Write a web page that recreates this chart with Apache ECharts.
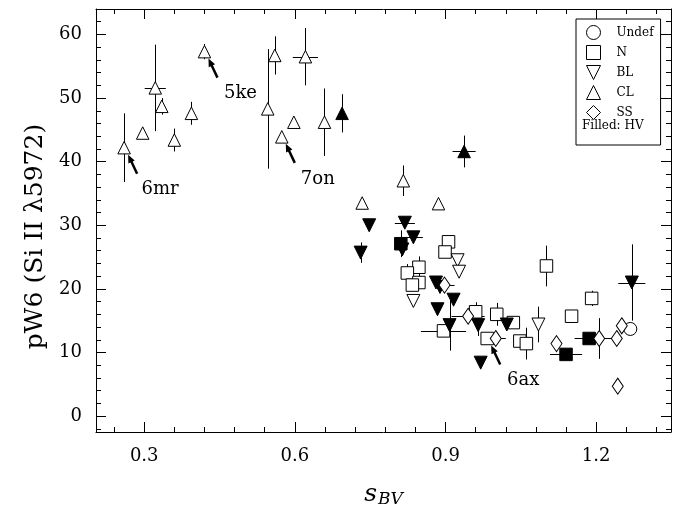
<!DOCTYPE html>
<html>
<head>
<meta charset="utf-8">
<script src="https://cdn.jsdelivr.net/npm/echarts@6/dist/echarts.min.js"></script>
<style>
  html, body { margin: 0; padding: 0; background: #fff; }
  #chart { width: 683px; height: 513px; }
</style>
</head>
<body>
<div id="chart"></div>
<script>
// Each point: [sBV, pW6, pW6 error, sBV error]
const undefOpen = [
  [1.268, 13.7, 0, 0]
];
const normalOpen = [
  [0.906, 27.4, 0, 0], [0.899, 25.8, 0, 0], [0.847, 23.4, 1.7, 0], [0.824, 22.5, 1.4, 0],
  [0.847, 21.0, 0, 0], [0.834, 20.6, 0, 0], [0.896, 13.4, 0, 0.045], [0.960, 16.4, 1.5, 0],
  [1.002, 16.0, 1.8, 0], [1.035, 14.7, 0, 0], [0.983, 12.2, 0, 0], [1.048, 11.8, 0, 0],
  [1.061, 11.4, 2.5, 0], [1.101, 23.6, 3.2, 0], [1.151, 15.7, 0, 0], [1.191, 18.5, 1.2, 0]
];
const normalHV = [
  [0.811, 27.1, 2.1, 0], [1.140, 9.7, 0, 0.032], [1.186, 12.2, 0, 0.029]
];
const brokenLineOpen = [
  [0.924, 24.5, 0, 0], [0.927, 22.7, 0, 0], [0.836, 18.1, 0, 0], [1.085, 14.4, 2.8, 0]
];
const brokenLineHV = [
  [0.748, 30.0, 0, 0], [0.731, 25.7, 1.6, 0], [0.819, 30.4, 0, 0.02], [0.836, 28.1, 0, 0.019],
  [0.814, 26.2, 0, 0], [0.881, 21.0, 0, 0], [0.889, 20.3, 0, 0], [0.916, 18.3, 0, 0],
  [0.884, 16.8, 0, 0], [0.908, 14.3, 4.0, 0], [0.965, 14.3, 1.7, 0], [0.970, 8.4, 0, 0],
  [1.022, 14.4, 0, 0], [1.271, 21.0, 6.0, 0.027]
];
const coolOpen = [
  [0.260, 42.2, 5.4, 0], [0.297, 44.5, 0, 0], [0.322, 51.6, 6.8, 0.021], [0.335, 48.7, 1.3, 0],
  [0.360, 43.4, 1.8, 0], [0.394, 47.6, 1.8, 0], [0.420, 57.3, 1.2, 0], [0.546, 48.3, 9.4, 0],
  [0.560, 56.7, 3.0, 0], [0.574, 43.9, 0, 0], [0.598, 46.2, 0, 0], [0.621, 56.5, 4.5, 0.025],
  [0.659, 46.2, 5.3, 0], [0.734, 33.5, 0, 0], [0.816, 37.0, 2.4, 0], [0.886, 33.4, 0, 0]
];
const coolHV = [
  [0.694, 47.6, 3.0, 0], [0.937, 41.6, 2.5, 0.023]
];
const shallowOpen = [
  [0.898, 20.6, 0, 0.02], [0.945, 15.7, 0, 0.033], [1.000, 12.2, 0, 0.02], [1.121, 11.4, 0, 0],
  [1.206, 12.2, 3.2, 0.025], [1.241, 12.2, 0, 0], [1.251, 14.2, 0, 0], [1.243, 4.7, 0, 0]
];

// Named objects: [label, sBV, pW6]
const namedObjects = [
  ['6mr', 0.260, 42.2], ['5ke', 0.420, 57.3], ['7on', 0.574, 43.9], ['6ax', 0.983, 12.2]
];

const xMajor = [0.3, 0.6, 0.9, 1.2];
const xMinor = [0.24, 0.36, 0.42, 0.48, 0.54, 0.66, 0.72, 0.78, 0.84, 0.96, 1.02, 1.08, 1.14, 1.26, 1.32];
const yMajor = [0, 10, 20, 30, 40, 50, 60];
const yMinor = [-2, 2, 4, 6, 8, 12, 14, 16, 18, 22, 24, 26, 28, 32, 34, 36, 38, 42, 44, 46, 48, 52, 54, 56, 58, 62, 64];
const legendNames = ['Undef', 'N', 'BL', 'CL', 'SS'];

const SERIF = '"DejaVu Serif", serif';
const X_RANGE = [0.204, 1.349];
const Y_RANGE = [-2.5, 64];

const DOWN_TRI = 'path://M0,0 L20,0 L10,20 Z';
const UP_TRI = 'path://M10,0 L20,20 L0,20 Z';
const DIAMOND = 'path://M10,0 L20,10 L10,20 L0,10 Z';

function xAxisDef(position, ticks, len, labels, lineShow) {
  return {
    type: 'value', min: X_RANGE[0], max: X_RANGE[1], position: position,
    axisLine: { show: lineShow, onZero: false, lineStyle: { color: '#000', width: 1 } },
    axisTick: { show: true, inside: true, length: len, customValues: ticks, lineStyle: { color: '#000', width: 1 } },
    axisLabel: labels ? { show: true, customValues: ticks, margin: 15, fontSize: 18, fontFamily: SERIF, color: '#000' } : { show: false },
    splitLine: { show: false }
  };
}
function yAxisDef(position, ticks, len, labels, lineShow) {
  return {
    type: 'value', min: Y_RANGE[0], max: Y_RANGE[1], position: position,
    axisLine: { show: lineShow, onZero: false, lineStyle: { color: '#000', width: 1 } },
    axisTick: { show: true, inside: true, length: len, customValues: ticks, lineStyle: { color: '#000', width: 1 } },
    axisLabel: labels ? { show: true, customValues: ticks, margin: 14, fontSize: 18, fontFamily: SERIF, color: '#000' } : { show: false },
    splitLine: { show: false }
  };
}

const xAxes = [
  xAxisDef('bottom', xMajor, 10, true, true),
  xAxisDef('bottom', xMinor, 5, false, false),
  xAxisDef('top', xMajor, 10, false, true),
  xAxisDef('top', xMinor, 5, false, false)
];
xAxes[0].name = '{s|s}{b|BV}';
xAxes[0].nameLocation = 'middle';
xAxes[0].nameGap = 49;
xAxes[0].nameTextStyle = {
  rich: {
    s: { fontFamily: SERIF, fontStyle: 'italic', fontSize: 25, color: '#000' },
    b: { fontFamily: SERIF, fontStyle: 'italic', fontSize: 17, color: '#000', padding: [10, 0, 0, 1] }
  }
};

const yAxes = [
  yAxisDef('left', yMajor, 10, true, true),
  yAxisDef('left', yMinor, 5, false, false),
  yAxisDef('right', yMajor, 10, false, true),
  yAxisDef('right', yMinor, 5, false, false)
];
yAxes[0].name = 'pW6 (Si II λ5972)';
yAxes[0].nameLocation = 'middle';
yAxes[0].nameGap = 47;
yAxes[0].nameTextStyle = { fontFamily: SERIF, fontSize: 25, color: '#000', padding: [0, 32, 0, 0] };

function scatter(name, data, symbol, size, filled) {
  return {
    type: 'scatter', name: name, data: data.map(p => [p[0], p[1]]),
    xAxisIndex: 0, yAxisIndex: 0,
    symbol: symbol, symbolSize: size, symbolKeepAspect: false,
    itemStyle: { color: filled ? '#000' : '#fff', borderColor: '#000', borderWidth: 1, opacity: 1 },
    emphasis: { disabled: true }, z: 3
  };
}

const allPoints = [].concat(undefOpen, normalOpen, normalHV, brokenLineOpen, brokenLineHV, coolOpen, coolHV, shallowOpen);

const errorBars = {
  type: 'custom', name: 'errors', xAxisIndex: 0, yAxisIndex: 0, z: 2, silent: true,
  data: allPoints,
  encode: { x: 0, y: 1 },
  renderItem: function (params, api) {
    const x = api.value(0), y = api.value(1), ye = api.value(2), xe = api.value(3);
    const children = [];
    const st = { stroke: '#000', lineWidth: 1 };
    if (ye > 0) {
      const a = api.coord([x, y - ye]), b = api.coord([x, y + ye]);
      children.push({ type: 'line', shape: { x1: Math.round(a[0]) + 0.5, y1: a[1], x2: Math.round(a[0]) + 0.5, y2: b[1] }, style: st });
    }
    if (xe > 0) {
      const a = api.coord([x - xe, y]), b = api.coord([x + xe, y]);
      children.push({ type: 'line', shape: { x1: a[0], y1: Math.round(a[1]) + 0.5, x2: b[0], y2: Math.round(a[1]) + 0.5 }, style: st });
    }
    return { type: 'group', children: children };
  }
};

// Arrows pointing at individual named objects, with their labels
const labels = {
  type: 'custom', name: 'names', xAxisIndex: 0, yAxisIndex: 0, z: 4, silent: true,
  data: namedObjects.map(n => [n[1], n[2], n[0]]),
  encode: { x: 0, y: 1 },
  renderItem: function (params, api) {
    const p = api.coord([api.value(0), api.value(1)]);
    const name = namedObjects[params.dataIndex][0];
    const tip = [p[0] + 4, p[1] + 7];
    const tail = [p[0] + 13, p[1] + 26];
    const dx = tip[0] - tail[0], dy = tip[1] - tail[1];
    const len = Math.sqrt(dx * dx + dy * dy), ux = dx / len, uy = dy / len;
    const headLen = 8, headHalf = 3.5;
    const base = [tip[0] - ux * headLen, tip[1] - uy * headLen];
    return {
      type: 'group',
      children: [
        { type: 'line', shape: { x1: tail[0], y1: tail[1], x2: base[0] + ux, y2: base[1] + uy }, style: { stroke: '#000', lineWidth: 2.5 } },
        { type: 'polygon', shape: { points: [tip, [base[0] - uy * headHalf, base[1] + ux * headHalf], [base[0] + uy * headHalf, base[1] - ux * headHalf]] }, style: { fill: '#000' } },
        { type: 'text', style: { text: name, x: p[0] + 36, y: p[1] + 42, align: 'center', verticalAlign: 'middle', textAlign: 'center', textVerticalAlign: 'middle', font: '18px "DejaVu Serif"', fill: '#000' } }
      ]
    };
  }
};

const chart = echarts.init(document.getElementById('chart'), null, { renderer: 'canvas' });
chart.setOption({
  animation: false,
  backgroundColor: '#fff',
  textStyle: { fontFamily: SERIF },
  grid: { left: 96, right: 12, top: 9, bottom: 81, containLabel: false },
  xAxis: xAxes,
  yAxis: yAxes,
  legend: {
    data: legendNames, orient: 'vertical', left: 576, top: 19,
    padding: [6, 7, 25, 10], itemGap: 5, itemWidth: 14, itemHeight: 14,
    borderColor: '#000', borderWidth: 1, backgroundColor: '#fff', borderRadius: 0,
    selectedMode: false,
    itemStyle: { color: 'inherit', borderColor: '#000', borderWidth: 1 },
    textStyle: { fontFamily: SERIF, fontSize: 12, color: '#000', padding: [0, 0, 0, 11] }
  },
  graphic: [
    { type: 'text', left: 582, top: 120, z: 100, style: { text: 'Filled: HV', font: '12px "DejaVu Serif"', fill: '#000' } }
  ],
  series: [
    errorBars,
    scatter('Undef', undefOpen, 'circle', 13, false),
    scatter('N', normalOpen, 'rect', 12.5, false),
    scatter('N HV', normalHV, 'rect', 12.5, true),
    scatter('BL', brokenLineOpen, DOWN_TRI, 13, false),
    scatter('BL HV', brokenLineHV, DOWN_TRI, 13, true),
    scatter('CL', coolOpen, UP_TRI, 12.5, false),
    scatter('CL HV', coolHV, UP_TRI, 12.5, true),
    scatter('SS', shallowOpen, DIAMOND, [11, 16], false),
    labels
  ]
});
</script>
</body>
</html>
